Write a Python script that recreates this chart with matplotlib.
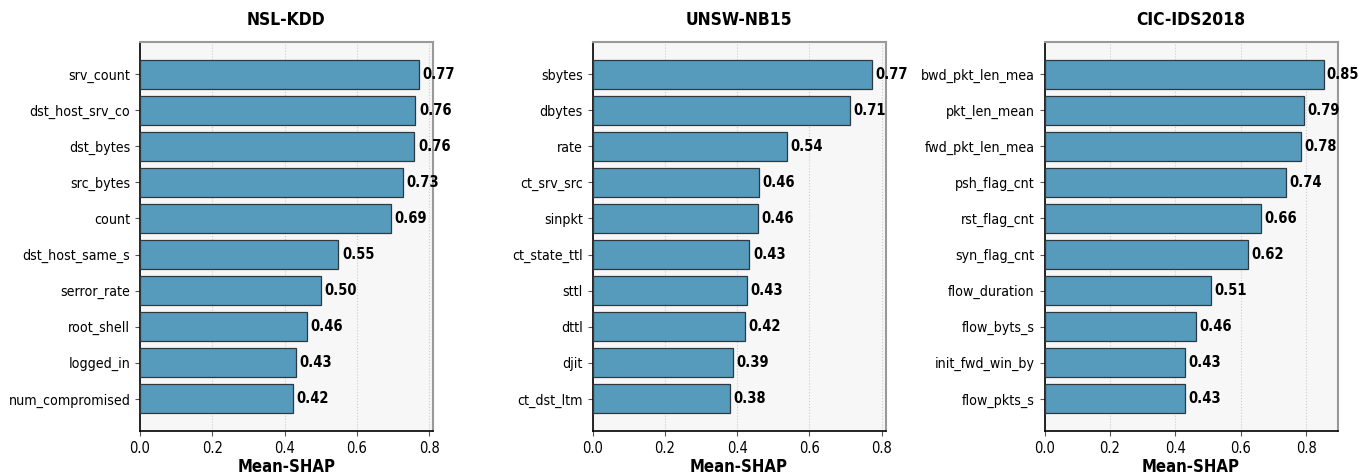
import matplotlib
matplotlib.use("Agg")
import matplotlib.pyplot as plt

plt.rcParams["font.family"] = ["DejaVu Sans"]
plt.rcParams["font.stretch"] = "condensed"

titles = ["NSL-KDD", "UNSW-NB15", "CIC-IDS2018"]

nsl_features = ["srv_count", "dst_host_srv_co", "dst_bytes", "src_bytes", "count",
                "dst_host_same_s", "serror_rate", "root_shell", "logged_in", "num_compromised"]
nsl_values = [0.772, 0.762, 0.759, 0.727, 0.694, 0.549, 0.500, 0.461, 0.431, 0.424]

unsw_features = ["sbytes", "dbytes", "rate", "ct_srv_src", "sinpkt",
                 "ct_state_ttl", "sttl", "dttl", "djit", "ct_dst_ltm"]
unsw_values = [0.772, 0.712, 0.538, 0.461, 0.458, 0.434, 0.428, 0.422, 0.388, 0.380]

cic_features = ["bwd_pkt_len_mea", "pkt_len_mean", "fwd_pkt_len_mea", "psh_flag_cnt", "rst_flag_cnt",
                "syn_flag_cnt", "flow_duration", "flow_byts_s", "init_fwd_win_by", "flow_pkts_s"]
cic_values = [0.853, 0.794, 0.784, 0.738, 0.663, 0.621, 0.509, 0.463, 0.430, 0.430]

xticks = [0.0, 0.2, 0.4, 0.6, 0.8]

datasets = [(nsl_features, nsl_values), (unsw_features, unsw_values), (cic_features, cic_values)]

fig = plt.figure(figsize=(13.58, 4.75), dpi=100)
lefts = [140 / 1358, 592.5 / 1358, 1044.5 / 1358]
width = 293 / 1358
bottom = 1 - 431 / 475
height = (431 - 42) / 475

for i, ((feats, vals), title) in enumerate(zip(datasets, titles)):
    ax = fig.add_axes([lefts[i], bottom, width, height])
    ax.set_facecolor("#f7f7f7")
    ypos = list(range(len(feats)))
    ax.barh(ypos, vals, height=0.8, color="#569bbb", edgecolor="#2f3a40", linewidth=0.9, zorder=3)
    ax.invert_yaxis()
    ax.set_yticks(ypos)
    ax.set_yticklabels(feats, fontsize=10.2)
    ax.set_xticks(xticks)
    ax.set_xticklabels([f"{t:.1f}" for t in xticks], fontsize=10.5)
    ax.set_xlim(0, max(vals) * 1.05)
    ax.grid(axis="x", linestyle=":", color="#cccccc", linewidth=0.8, zorder=0)
    for y, v in zip(ypos, vals):
        ax.text(v + 0.01, y, f"{v:.2f}", va="center", ha="left", fontsize=10.5,
                fontweight="bold", zorder=4)
    ax.set_title(title, fontsize=12.5, fontweight="bold", pad=12)
    ax.set_xlabel("Mean-SHAP", fontsize=12, fontweight="bold", labelpad=2)
    for s in ["top", "right"]:
        ax.spines[s].set_color("#999999")
        ax.spines[s].set_linewidth(1.5)
    for s in ["left", "bottom"]:
        ax.spines[s].set_color("black")
        ax.spines[s].set_linewidth(1.2)
    ax.tick_params(axis="both", length=3.5, width=0.8, color="#555555")

fig.savefig("out.png", dpi=100)
